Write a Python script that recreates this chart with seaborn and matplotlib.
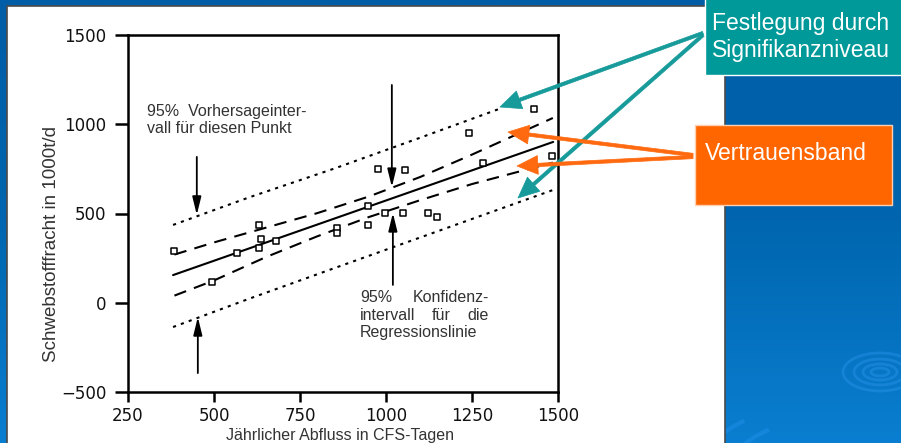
import numpy as np
import pandas as pd
import seaborn as sns
import matplotlib.pyplot as plt
from matplotlib.patches import Rectangle, FancyArrowPatch, Ellipse, Arc
from matplotlib.colors import LinearSegmentedColormap

# scanned data points (annual discharge, suspended load)
point_x = [384, 494, 567, 631, 637, 631, 680, 858, 858, 948, 948, 977, 997, 1049,
           1055, 1122, 1148, 1241, 1282, 1430, 1483]
point_y = [290, 116, 279, 436, 357, 307, 346, 420, 390, 542, 436, 749, 503, 503,
           744, 503, 480, 951, 783, 1085, 822]

# regression line
reg_x = [381, 1486]
reg_y = [155, 901]

# confidence band for the regression line (dashed)
ci_x = [385, 500, 650, 800, 950, 1100, 1250, 1485]
ci_upper = [270, 338, 420, 502, 595, 705, 830, 1035]
ci_lower = [40, 125, 255, 372, 480, 575, 665, 785]

# prediction interval (dotted)
pi_upper_x = [381, 600, 850, 1100, 1335]
pi_upper_y = [436, 589, 752, 925, 1090]
pi_lower_x = [381, 600, 850, 1100, 1486]
pi_lower_y = [-136, 21, 194, 366, 632]

x_ticks = [250, 500, 750, 1000, 1250, 1500]
y_ticks = [-500, 0, 500, 1000, 1500]

sns.set_theme(style="ticks")
plt.rcParams['font.family'] = ['Liberation Sans', 'DejaVu Sans']

W, H = 901, 443
fig = plt.figure(figsize=(W / 100, H / 100), dpi=100)
fig.patch.set_facecolor('#0A5FA7')

# slide background
bg = fig.add_axes([0, 0, 1, 1], zorder=0)
bg.set_xlim(0, W)
bg.set_ylim(H, 0)
bg.axis('off')
cmap = LinearSegmentedColormap.from_list('slide', ['#005DA6', '#0066AF', '#0A7ED0'])
grad = np.linspace(0, 1, 200).reshape(-1, 1)
bg.imshow(grad, cmap=cmap, extent=[0, W, H, 0], aspect='auto', zorder=0)
for w_, h_ in [(18, 8), (34, 16), (52, 26), (74, 38)]:
    bg.add_patch(Ellipse((880, 372), w_, h_, fill=False, ec='#2A93EA', lw=2, alpha=0.45, zorder=1))
for w_, h_ in [(300, 120), (360, 150), (430, 185)]:
    bg.add_patch(Arc((880, 470), w_, h_, theta1=90, theta2=200, ec='#1F8FEA', lw=3, alpha=0.5, zorder=1))
bg.add_patch(Rectangle((7, 6), 718, 440, fc='white', ec='#4A4A4A', lw=1.2, zorder=2))

# main chart
ax = fig.add_axes([128 / W, 51 / H, 430 / W, 357 / H], zorder=1)
ax.patch.set_visible(False)
sns.lineplot(x=reg_x, y=reg_y, ax=ax, color='black', lw=1.5, sort=False)
sns.lineplot(x=ci_x, y=ci_upper, ax=ax, color='black', lw=1.5, linestyle=(0, (6, 4)))
sns.lineplot(x=ci_x, y=ci_lower, ax=ax, color='black', lw=1.5, linestyle=(0, (6, 4)))
sns.lineplot(x=pi_upper_x, y=pi_upper_y, ax=ax, color='black', lw=1.5, linestyle=(0, (1.5, 2.5)))
sns.lineplot(x=pi_lower_x, y=pi_lower_y, ax=ax, color='black', lw=1.5, linestyle=(0, (1.5, 2.5)))
sns.scatterplot(x=point_x, y=point_y, ax=ax, marker='s', s=18, color='white',
                edgecolor='black', linewidth=1.1, zorder=5)

ax.set_xlim(250, 1500)
ax.set_ylim(-500, 1500)
ax.set_xticks(x_ticks)
ax.set_yticks(y_ticks)
ax.set_yticklabels(['\u2212500', '0', '500', '1000', '1500'])
for s in ax.spines.values():
    s.set_linewidth(1.8)
    s.set_color('black')
ax.tick_params(axis='y', length=9.5, width=1.8, pad=6, labelsize=12, color='black')
ax.tick_params(axis='x', length=7, width=1.8, pad=3.5, labelsize=12, color='black')
for lab in ax.get_xticklabels() + ax.get_yticklabels():
    lab.set_family('DejaVu Sans')
    lab.set_color('#111111')
ax.set_xlabel('Jährlicher Abfluss in CFS-Tagen', fontsize=11.5, color='#333333')
ax.set_ylabel('Schwebstofffracht in 1000t/d', fontsize=13.5, color='#333333')
ax.xaxis.set_label_coords(0.493, -0.1)
ax.yaxis.set_label_coords(-0.158, 0.415)

arrow_kw = dict(arrowstyle='-|>,head_length=0.9,head_width=0.22', color='black',
                lw=1.3, shrinkA=0, shrinkB=0)
ax.annotate('', xy=(450, 492), xytext=(450, 817), arrowprops=arrow_kw)
ax.annotate('', xy=(453, -80), xytext=(453, -394), arrowprops=arrow_kw)
ax.annotate('', xy=(1017, 648), xytext=(1017, 1220), arrowprops=arrow_kw)
ax.annotate('', xy=(1020, 503), xytext=(1020, 100), arrowprops=arrow_kw)

ax.text(305, 1112, '95%  Vorhersageinter-\nvall für diesen Punkt', fontsize=11.5,
        color='#333333', va='top', ha='left', linespacing=1.15)
txt = dict(fontsize=11.5, color='#333333', va='center')
ax.text(924, 32, '95%', ha='left', **txt)
ax.text(1299, 32, 'Konfidenz-', ha='right', **txt)
ax.text(924, -69, 'intervall', ha='left', **txt)
ax.text(1160, -69, 'für', ha='center', **txt)
ax.text(1299, -69, 'die', ha='right', **txt)
ax.text(924, -169, 'Regressionslinie', ha='left', **txt)

# slide overlay: boxes and coloured arrows
ov = fig.add_axes([0, 0, 1, 1], zorder=3)
ov.set_xlim(0, W)
ov.set_ylim(H, 0)
ov.axis('off')
ov.patch.set_alpha(0)
ov.add_patch(Rectangle((705, -2), 198, 77, fc='#009999', ec='white', lw=1))
ov.text(801, 37, 'Festlegung durch\nSignifikanzniveau', fontsize=16.5, color='white',
        ha='center', va='center', linespacing=1.2)
ov.add_patch(Rectangle((695, 125), 197, 80, fc='#FF6600', ec='#FFD0B0', lw=1))
ov.text(705, 153, 'Vertrauensband', fontsize=16.5, color='white', ha='left', va='center')

style = 'simple,head_length=1.0,head_width=0.9,tail_width=0.16'
for start, end, col in [((703, 33), (500, 107), '#169A9A'),
                        ((703, 35), (518, 198), '#169A9A'),
                        ((693, 155), (508, 132), '#FF6A10'),
                        ((693, 157), (517, 166), '#FF6A10')]:
    ov.add_patch(FancyArrowPatch(start, end, arrowstyle=style, mutation_scale=15,
                                 fc=col, ec=col, lw=0.5, shrinkA=0, shrinkB=0))

fig.savefig('out.png', dpi=100, facecolor=fig.get_facecolor())
